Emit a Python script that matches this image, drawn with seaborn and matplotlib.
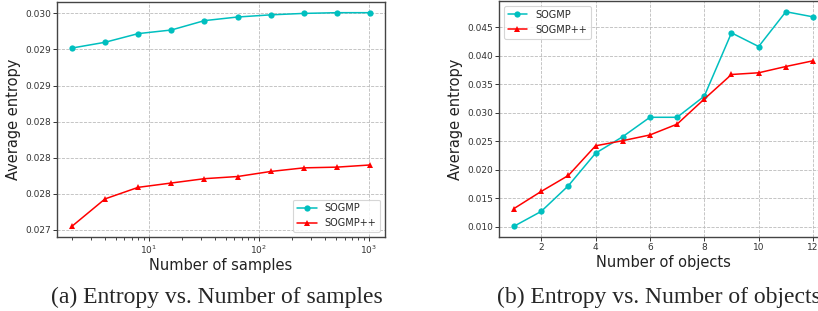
import numpy as np
import pandas as pd
import seaborn as sns
import matplotlib
matplotlib.use("Agg")
import matplotlib.pyplot as plt
from matplotlib.ticker import FixedLocator, FixedFormatter

# --- data ---
n_samples = [2, 4, 8, 16, 32, 64, 128, 256, 512, 1024]
sogmp_samples = [0.02952, 0.02960, 0.02972, 0.02977, 0.02990, 0.02995,
                 0.02998, 0.03000, 0.03001, 0.03001]
sogmppp_samples = [0.02705, 0.02743, 0.02759, 0.02765, 0.02771, 0.02774,
                   0.02781, 0.02786, 0.02787, 0.02790]

n_objects = [1, 2, 3, 4, 5, 6, 7, 8, 9, 10, 11, 12]
sogmp_objects = [0.0101, 0.0127, 0.0172, 0.0229, 0.0258, 0.0292, 0.0292,
                 0.0329, 0.0440, 0.0416, 0.0477, 0.0468]
sogmppp_objects = [0.0132, 0.0162, 0.0190, 0.0242, 0.0251, 0.0261, 0.0280,
                   0.0324, 0.0367, 0.0370, 0.0381, 0.0391]

left_yticks = [0.0270, 0.0275, 0.0280, 0.0285, 0.0290, 0.0295, 0.0300]
left_ylabels = ["0.027", "0.028", "0.028", "0.028", "0.029", "0.029", "0.030"]

captions = ["(a) Entropy vs. Number of samples", "(b) Entropy vs. Number of objects"]

sns.set_style("ticks")
plt.rcParams['font.family'] = ['DejaVu Sans']

W, H = 818, 311
fig = plt.figure(figsize=(W / 100, H / 100), dpi=100)
ax1 = fig.add_axes([57 / W, 74 / H, 328 / W, 235 / H])
ax2 = fig.add_axes([499 / W, 74 / H, 329 / W, 236 / H])


def draw(ax, x, y1, y2, loc):
    sns.lineplot(x=x, y=y1, ax=ax, color='c', marker='o', markersize=4.5,
                 markeredgewidth=0, linewidth=1.1, label='SOGMP')
    sns.lineplot(x=x, y=y2, ax=ax, color='r', marker='^', markersize=4.5,
                 markeredgewidth=0, linewidth=1.1, label='SOGMP++')
    ax.grid(True, linestyle='--', color='#bbbbbb', linewidth=0.6)
    for s in ax.spines.values():
        s.set_color('#444444')
        s.set_linewidth(1.0)
    ax.tick_params(labelsize=6.5, colors='#333333', length=3, width=0.7, pad=1.5)
    ax.set_ylabel('Average entropy', fontsize=10.5, color='#222222', labelpad=3)
    leg = ax.legend(loc=loc, fontsize=7, frameon=True, fancybox=True,
                    edgecolor='#cccccc', handlelength=2)
    leg.get_frame().set_linewidth(0.8)


draw(ax1, n_samples, sogmp_samples, sogmppp_samples, 'lower right')
ax1.set_xscale('log')
ax1.yaxis.set_major_locator(FixedLocator(left_yticks))
ax1.yaxis.set_major_formatter(FixedFormatter(left_ylabels))
ax1.set_xlabel('Number of samples', fontsize=10.5, color='#222222', labelpad=2)

draw(ax2, n_objects, sogmp_objects, sogmppp_objects, 'upper left')
ax2.set_xticks([2, 4, 6, 8, 10, 12])
ax2.set_yticks([0.010, 0.015, 0.020, 0.025, 0.030, 0.035, 0.040, 0.045])
ax2.yaxis.set_major_formatter(matplotlib.ticker.FormatStrFormatter('%.3f'))
ax2.set_xlabel('Number of objects', fontsize=10.5, color='#222222', labelpad=2)

fig.text(51 / W, 1 - 303 / H, captions[0], fontsize=17, family='Liberation Serif',
         ha='left', va='baseline')
fig.text(497 / W, 1 - 303 / H, captions[1], fontsize=17, family='Liberation Serif',
         ha='left', va='baseline')

fig.savefig('out.png', dpi=100)
